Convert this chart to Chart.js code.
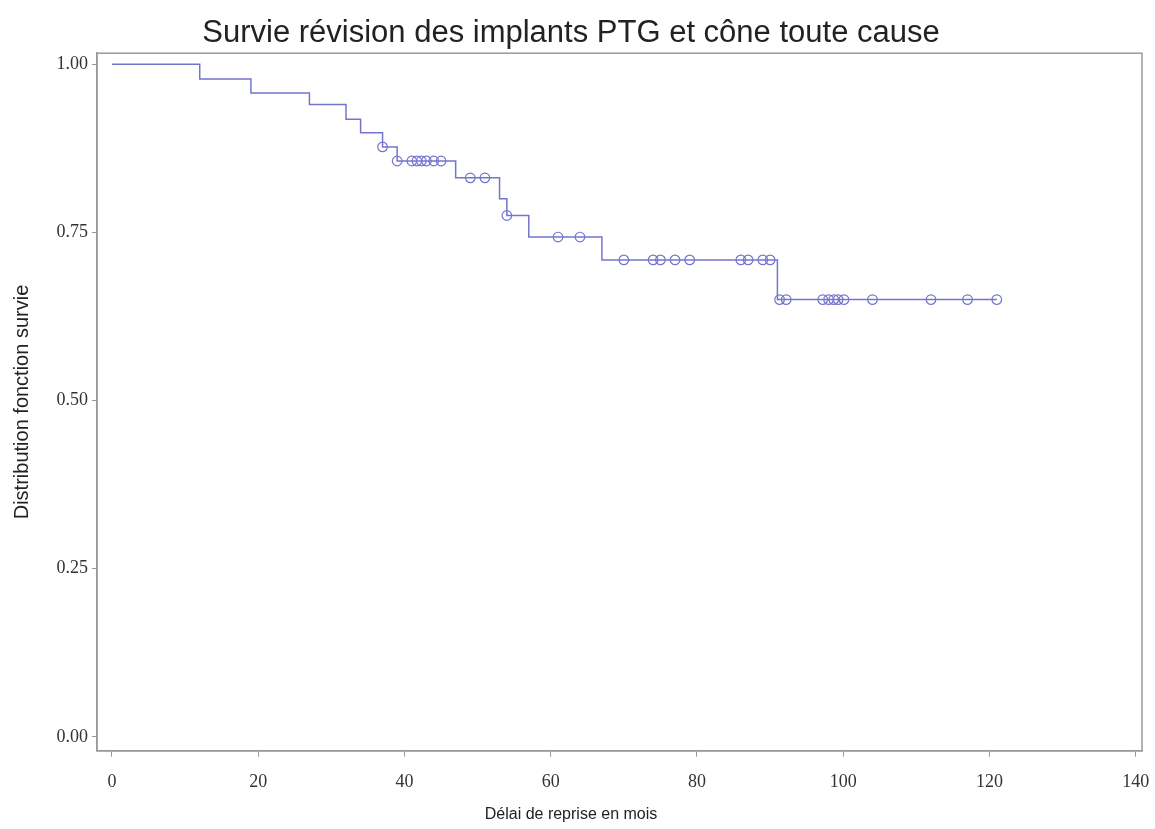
<!DOCTYPE html>
<html>
<head>
<meta charset="utf-8">
<script src="https://cdn.jsdelivr.net/npm/chart.js@4/dist/chart.umd.min.js"></script>
<style>
    html, body { margin: 0; padding: 0; background: #fff; }
    #wrap { width: 1155px; height: 829px; }
</style>
</head>
<body>
<div id="wrap"><canvas id="kmChart"></canvas></div>
<script>
// ===== DATA =====
// step points: time (months) where survival drops, and the new survival value
const eventTimes = [0, 12, 19, 27, 32, 34, 37, 39, 47, 53, 54, 57, 67, 91, 121];
const survival   = [1.000, 0.978, 0.957, 0.940, 0.918, 0.898, 0.877, 0.856, 0.831, 0.800, 0.775, 0.743, 0.709, 0.650, 0.650];

// censored observations (circles)
const censorTimes = [37, 39, 41, 41.7, 42.3, 43, 44, 45, 49, 51, 54, 61, 64,
    70, 74, 75, 77, 79, 86, 87, 89, 90,
    91.3, 92.2, 97.2, 98, 98.7, 99.3, 100.1, 104, 112, 117, 121];
const censorSurvival = [0.877, 0.856, 0.856, 0.856, 0.856, 0.856, 0.856, 0.856, 0.831, 0.831, 0.775, 0.743, 0.743,
    0.709, 0.709, 0.709, 0.709, 0.709, 0.709, 0.709, 0.709, 0.709,
    0.650, 0.650, 0.650, 0.650, 0.650, 0.650, 0.650, 0.650, 0.650, 0.650, 0.650];

const xTicks = [0, 20, 40, 60, 80, 100, 120, 140];
const yTicks = [0, 0.25, 0.5, 0.75, 1.0];

const TITLE = 'Survie révision des implants PTG et cône toute cause';
const X_TITLE = 'Délai de reprise en mois';
const Y_TITLE = 'Distribution fonction survie';

// ===== STYLE =====
const LINE_COLOR = '#7474cf';
const AXIS_COLOR = '#9a9a9a';
const TEXT_COLOR = '#333';
const SANS = '"Liberation Sans", Arial, sans-serif';
const SERIF = '"Liberation Serif", "Times New Roman", serif';

// frame around the plot area (top and right sides too)
const framePlugin = {
    id: 'frame',
    afterDraw(chart) {
        const { ctx, chartArea: a } = chart;
        ctx.save();
        ctx.strokeStyle = AXIS_COLOR;
        ctx.lineWidth = 1.5;
        ctx.strokeRect(a.left, a.top, a.right - a.left, a.bottom - a.top);
        ctx.restore();
    }
};

function renderChart() {
    const ctx = document.getElementById('kmChart');

    new Chart(ctx.getContext('2d'), {
        type: 'line',
        data: {
            datasets: [
                {
                    label: 'Survie',
                    data: eventTimes.map((t, i) => ({ x: t, y: survival[i] })),
                    borderColor: LINE_COLOR,
                    borderWidth: 1.5,
                    stepped: 'before',
                    pointRadius: 0,
                    fill: false
                },
                {
                    type: 'scatter',
                    label: 'Censure',
                    data: censorTimes.map((t, i) => ({ x: t, y: censorSurvival[i] })),
                    borderColor: LINE_COLOR,
                    backgroundColor: 'rgba(0,0,0,0)',
                    borderWidth: 1.2,
                    pointStyle: 'circle',
                    pointRadius: 4.8
                }
            ]
        },
        options: {
            responsive: true,
            maintainAspectRatio: false,
            animation: false,
            layout: { padding: { left: 0, right: 13, top: 0, bottom: 0 } },
            plugins: {
                legend: { display: false },
                tooltip: { enabled: false },
                title: {
                    display: true,
                    text: TITLE,
                    color: '#222',
                    font: { family: SANS, size: 31, weight: 'normal' },
                    padding: { top: 15, bottom: 1 }
                },
                subtitle: {
                    display: true,
                    position: 'bottom',
                    text: X_TITLE,
                    color: '#222',
                    font: { family: SANS, size: 16, weight: 'normal' },
                    padding: { top: 8, bottom: 5 }
                }
            },
            scales: {
                x: {
                    type: 'linear',
                    min: -2.05,
                    max: 140.86,
                    afterBuildTicks: s => { s.ticks = xTicks.map(v => ({ value: v })); },
                    afterFit: s => {
                        s.height = 46;
                        // keep the last tick label from shrinking the plot
                        s.paddingLeft = 0;
                        s.paddingRight = 0;
                    },
                    grid: { display: true, drawOnChartArea: false, drawTicks: true, tickLength: 6, color: AXIS_COLOR },
                    border: { display: true, color: AXIS_COLOR, width: 1.5 },
                    ticks: { color: TEXT_COLOR, font: { family: SERIF, size: 18 }, padding: 15, maxRotation: 0 }
                },
                y: {
                    type: 'linear',
                    min: -0.0208,
                    max: 1.0163,
                    afterBuildTicks: s => { s.ticks = yTicks.map(v => ({ value: v })); },
                    afterFit: s => {
                        s.width = 97;
                        s.paddingTop = 0;
                        s.paddingBottom = 0;
                    },
                    grid: { display: true, drawOnChartArea: false, drawTicks: true, tickLength: 5, color: AXIS_COLOR },
                    border: { display: true, color: AXIS_COLOR, width: 1.5 },
                    ticks: {
                        color: TEXT_COLOR,
                        font: { family: SERIF, size: 18 },
                        padding: 4,
                        callback: v => v.toFixed(2)
                    },
                    title: {
                        display: true,
                        text: Y_TITLE,
                        color: '#222',
                        font: { family: SANS, size: 20, weight: 'normal' },
                        padding: { top: 10, bottom: 0 }
                    }
                }
            }
        },
        plugins: [framePlugin]
    });
}

renderChart();
</script>
</body>
</html>
